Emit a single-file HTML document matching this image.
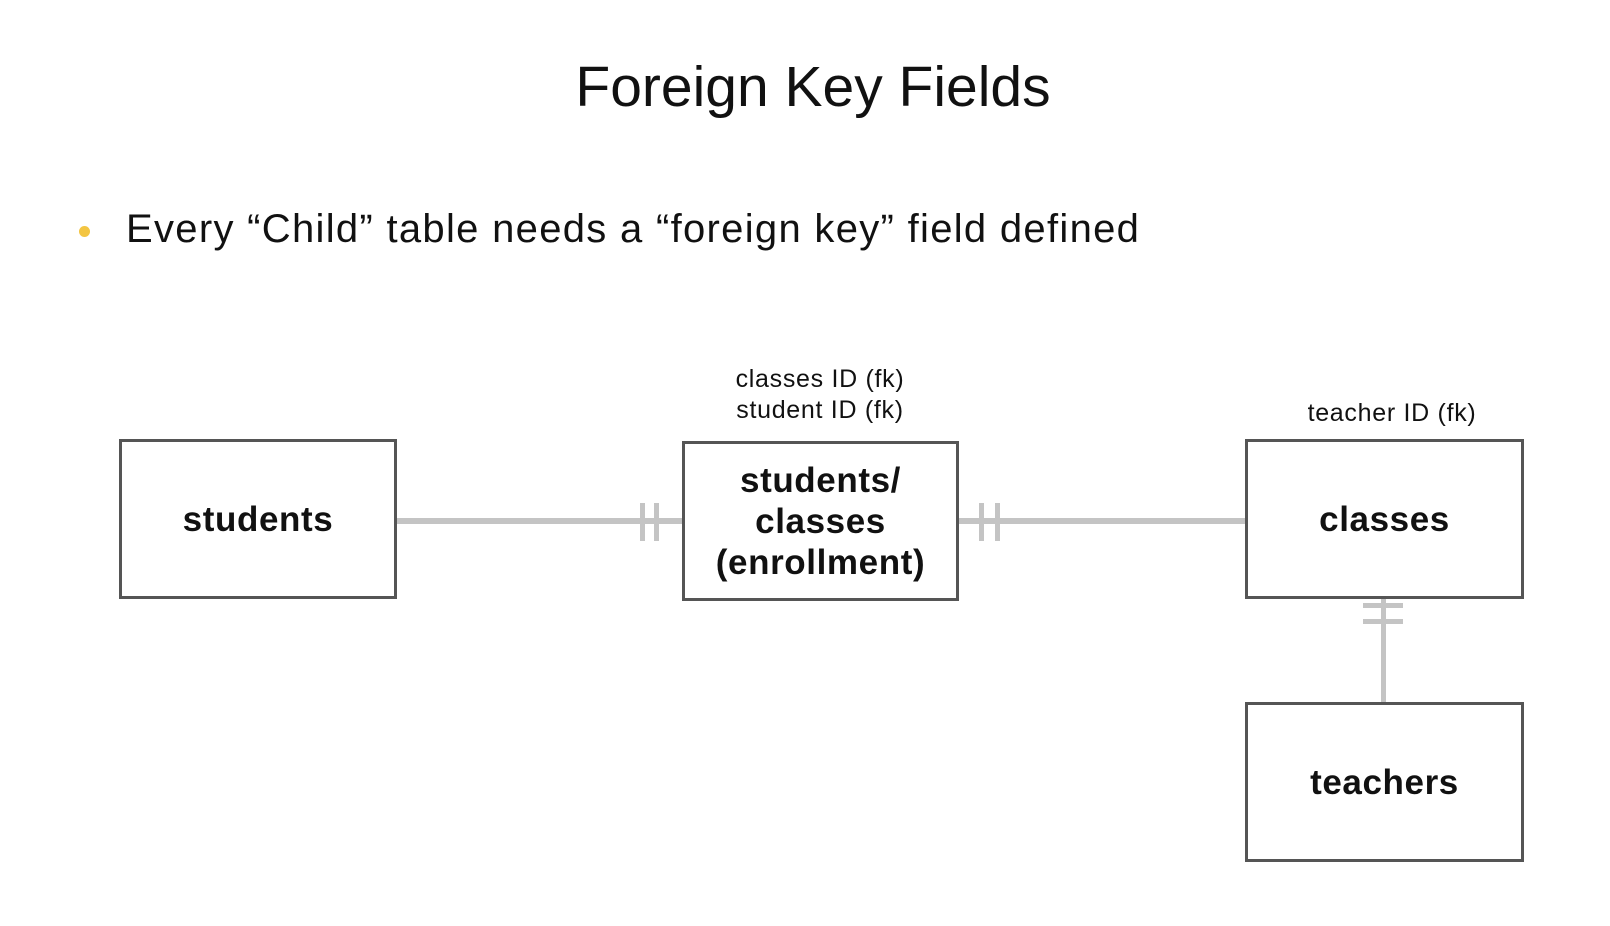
<!DOCTYPE html>
<html><head><style>
html,body{margin:0;padding:0;background:#fff;}
body{width:1610px;height:926px;position:relative;overflow:hidden;font-family:"Liberation Sans",sans-serif;color:#111;}
.t{position:absolute;white-space:nowrap;}
.box{position:absolute;border:3px solid #555;box-sizing:border-box;display:flex;align-items:center;justify-content:center;text-align:center;font-weight:bold;font-size:35px;letter-spacing:0.6px;line-height:41px;color:#111;}
.h{position:absolute;background:#c4c4c4;}
</style></head><body>
<div class="t" style="left:513px;width:600px;text-align:center;top:54px;font-size:57px;">Foreign Key Fields</div>
<div style="position:absolute;left:79px;top:226px;width:11px;height:11px;border-radius:50%;background:#f3c542;"></div>
<div class="t" style="left:126px;top:207px;font-size:40px;letter-spacing:1.3px;">Every “Child” table needs a “foreign key” field defined</div>
<div class="t" style="left:670px;width:300px;text-align:center;top:364px;font-size:25px;letter-spacing:0.7px;line-height:31px;">classes ID (fk)<br>student ID (fk)</div>
<div class="t" style="left:1242px;width:300px;text-align:center;top:399px;font-size:25px;letter-spacing:0.7px;">teacher ID (fk)</div>
<div class="h" style="left:396px;top:518px;width:286px;height:6px;"></div>
<div class="h" style="left:958px;top:518px;width:287px;height:6px;"></div>
<div class="h" style="left:640px;top:503px;width:5px;height:38px;"></div>
<div class="h" style="left:654px;top:503px;width:5px;height:38px;"></div>
<div class="h" style="left:979px;top:503px;width:5px;height:38px;"></div>
<div class="h" style="left:995px;top:503px;width:5px;height:38px;"></div>
<div class="h" style="left:1381px;top:598px;width:5px;height:105px;"></div>
<div class="h" style="left:1363px;top:603px;width:40px;height:5px;"></div>
<div class="h" style="left:1363px;top:619px;width:40px;height:5px;"></div>
<div class="box" style="left:119px;top:439px;width:278px;height:160px;">students</div>
<div class="box" style="left:682px;top:441px;width:277px;height:160px;">students/<br>classes<br>(enrollment)</div>
<div class="box" style="left:1245px;top:439px;width:279px;height:160px;">classes</div>
<div class="box" style="left:1245px;top:702px;width:279px;height:160px;">teachers</div>
</body></html>
